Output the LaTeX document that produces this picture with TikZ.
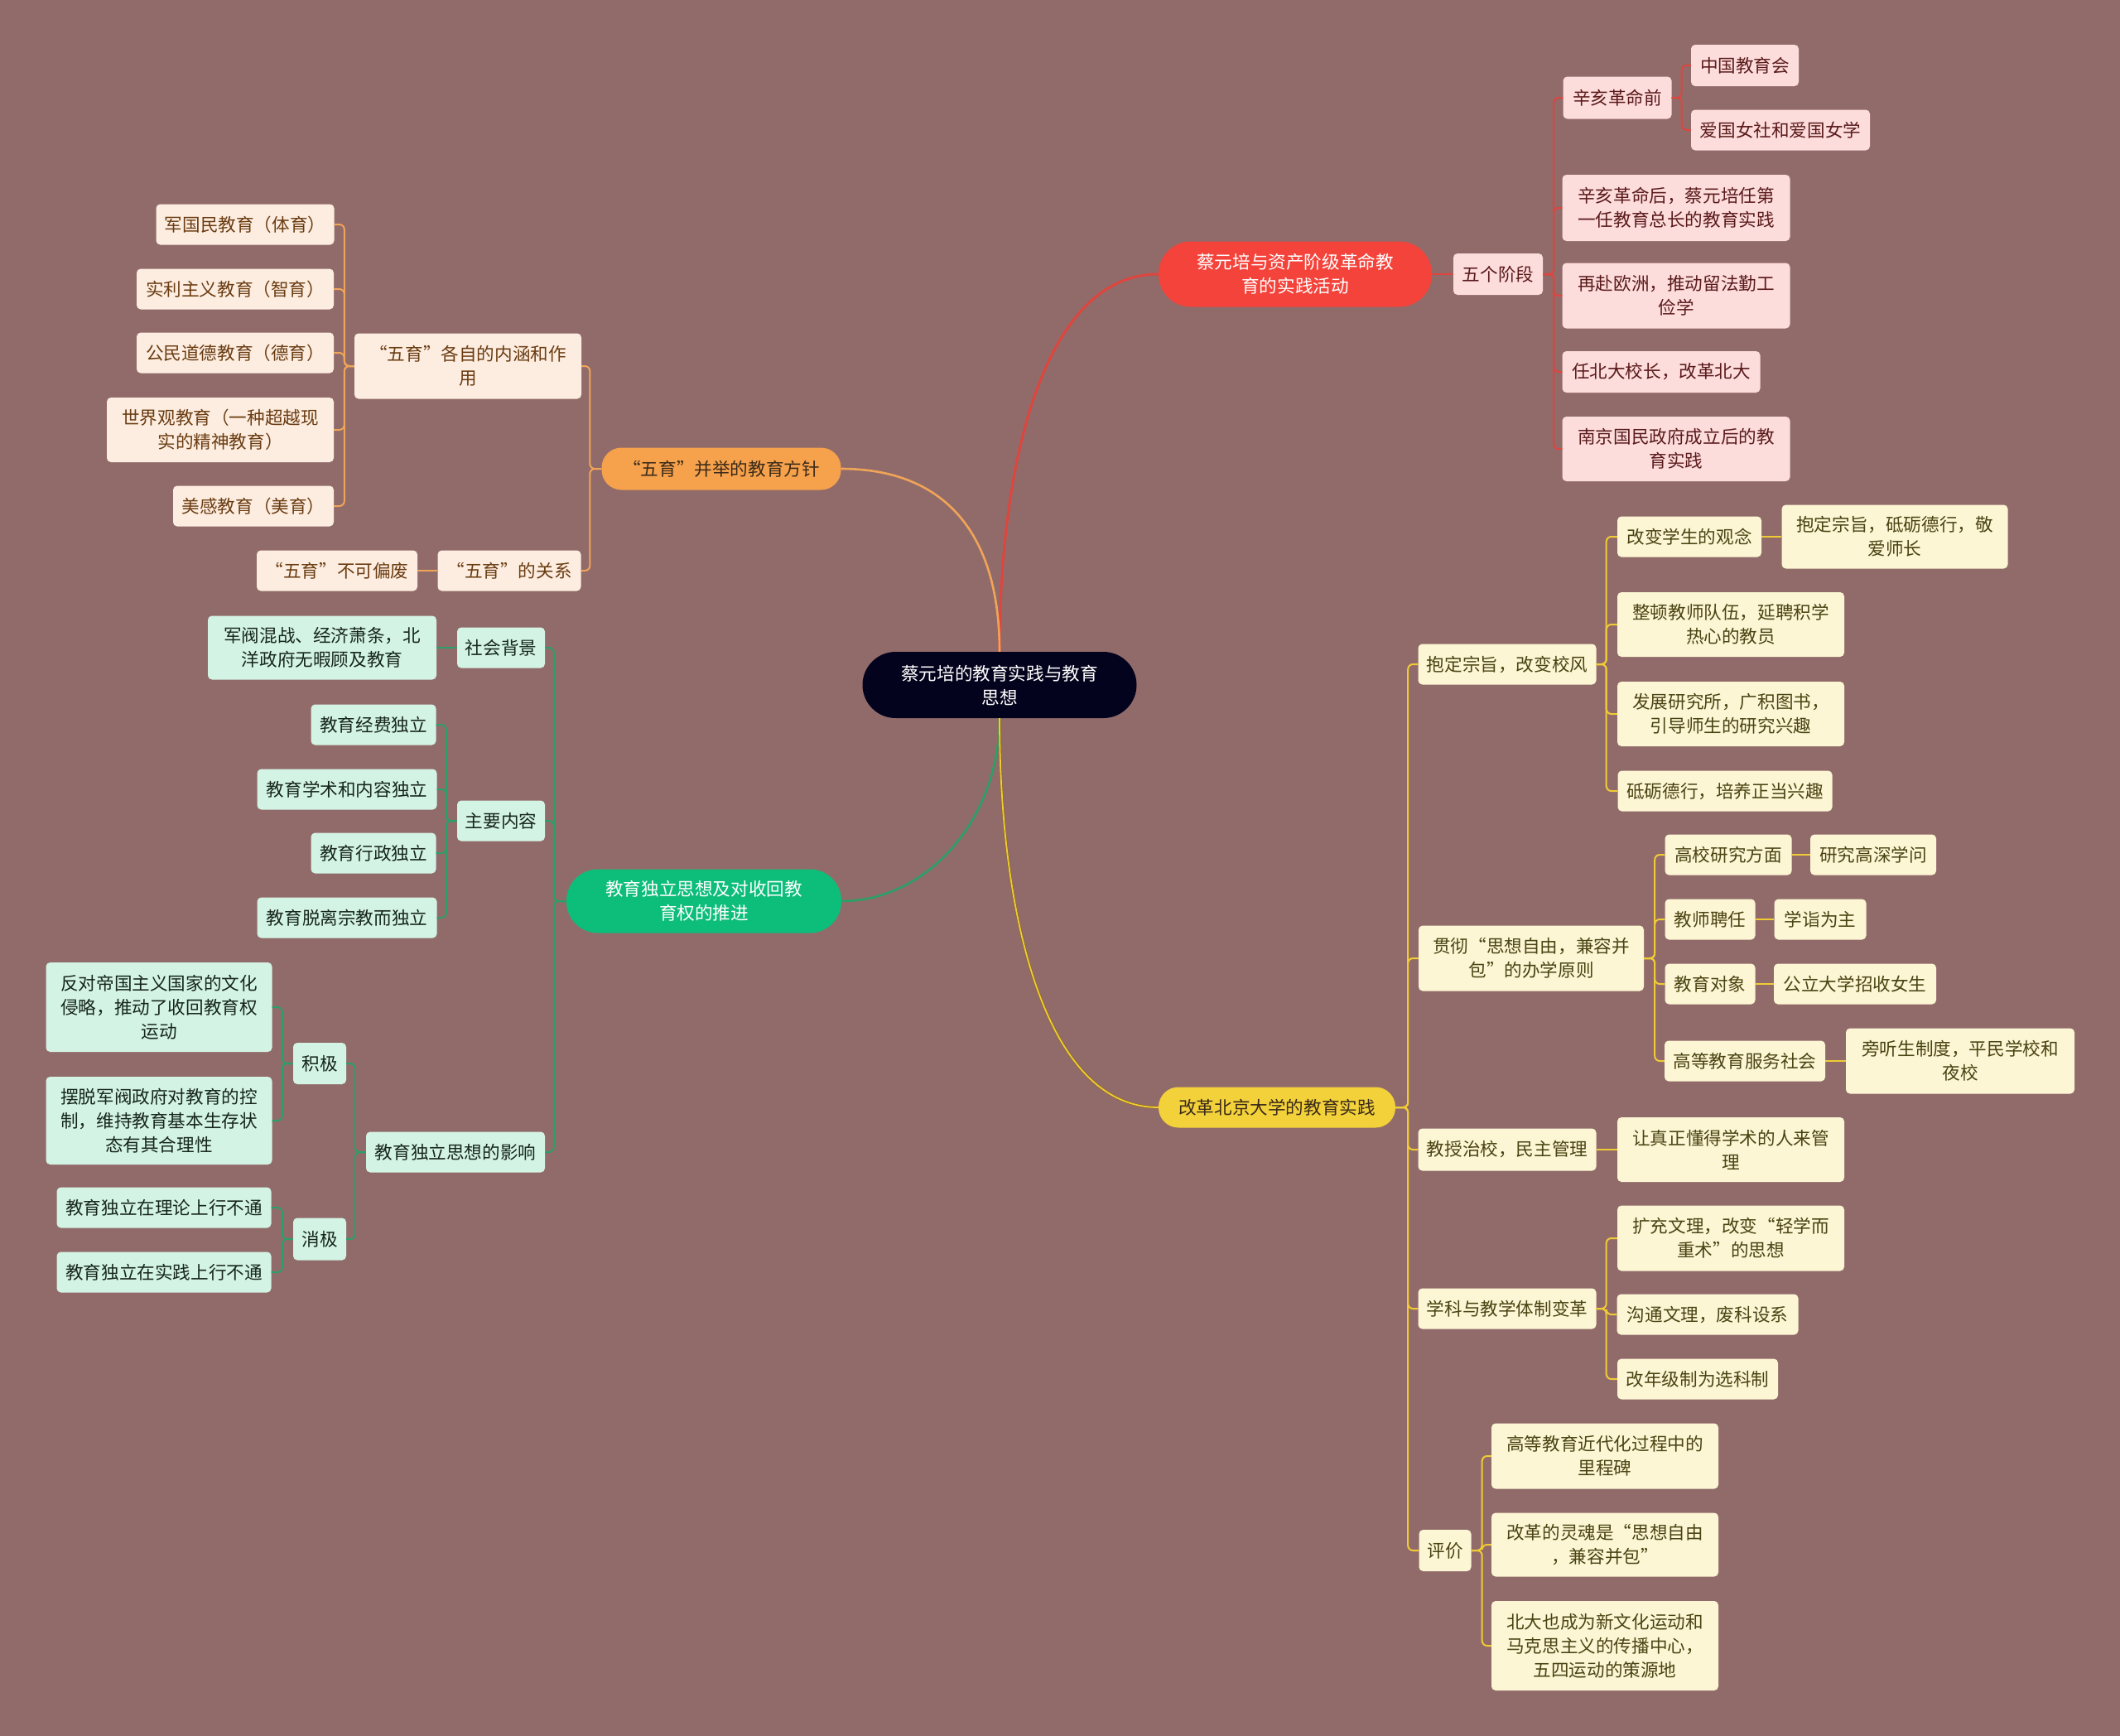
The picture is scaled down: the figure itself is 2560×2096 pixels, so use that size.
\documentclass[tikz,border=0pt]{standalone}
\usepackage{fontspec}
\setmainfont{Noto Sans CJK SC}
\definecolor{cbg}{HTML}{916B6A}
\definecolor{croot}{HTML}{04031E}
\definecolor{cred}{HTML}{F4433B}
\definecolor{corange}{HTML}{F6A14B}
\definecolor{cgreen}{HTML}{0DBD7A}
\definecolor{cyellow}{HTML}{F3D13A}
\definecolor{lred}{HTML}{DE453D}
\definecolor{lorange}{HTML}{F0A458}
\definecolor{lgreen}{HTML}{2C9F66}
\definecolor{lyellow}{HTML}{F0CB36}
\definecolor{lolive}{HTML}{8A6A1E}
\definecolor{cpink}{HTML}{FDDCDC}
\definecolor{cpeach}{HTML}{FDEDE0}
\definecolor{cmint}{HTML}{D3F3E4}
\definecolor{ccream}{HTML}{FDF6D4}
\definecolor{tred}{HTML}{5A1A1A}
\definecolor{torange}{HTML}{6A3C12}
\definecolor{tgreen}{HTML}{17261D}
\definecolor{tyellow}{HTML}{4A4313}
\definecolor{tdark}{HTML}{3A2A1A}
\tikzset{
  box/.style={align=center, inner sep=0pt, minimum height=49, font=\fontsize{21.6}{29}\selectfont},
  wd/.style={minimum width=#1},
  ht/.style={minimum height=#1},
  hub/.style={box, fill=#1, rounded corners=24pt},
  leafr/.style={box, fill=cpink, text=tred, rounded corners=5pt},
  leafo/.style={box, fill=cpeach, text=torange, rounded corners=5pt},
  leafg/.style={box, fill=cmint, text=tgreen, rounded corners=5pt},
  leafy/.style={box, fill=ccream, text=tyellow, rounded corners=5pt},
  trunk/.style={draw=#1, line width=2.6pt},
  conn/.style={draw=#1, line width=2pt, rounded corners=6pt},
}

\begin{document}
\begin{tikzpicture}[x=1pt, y=-1pt]
  \fill[cbg] (0,0) rectangle (2560,2096);
  % centre
  \node[hub=croot, text=white, rounded corners=40pt, wd=331, ht=80] (root) at (1207,827) {蔡元培的教育实践与教育\\思想};
  % red branch
  \node[hub=cred, text=white, rounded corners=39pt, wd=330, ht=79] (act) at (1564,331) {蔡元培与资产阶级革命教\\育的实践活动};
  \node[leafr, wd=108, ht=50] (five) at (1809,331) {五个阶段};
  \node[leafr, wd=131, ht=51] (pre) at (1953,118) {辛亥革命前};
  \node[leafr, wd=130, ht=50] (cea) at (2107,79) {中国教育会};
  \node[leafr, wd=216] (patr) at (2150,157) {爱国女社和爱国女学};
  \node[leafr, wd=275, ht=80] (post) at (2024,251) {辛亥革命后，蔡元培任第\\一任教育总长的教育实践};
  \node[leafr, wd=275, ht=79] (euro) at (2024,357) {再赴欧洲，推动留法勤工\\俭学};
  \node[leafr, wd=239, ht=50] (pku) at (2006,449) {任北大校长，改革北大};
  \node[leafr, wd=275, ht=78] (nanj) at (2024,542) {南京国民政府成立后的教\\育实践};
  % orange branch
  \node[hub=corange, text=tdark, wd=289, ht=51] (policy) at (871,566) {“五育”并举的教育方针};
  \node[leafo, wd=274, ht=79] (each) at (565,442) {“五育”各自的内涵和作\\用};
  \node[leafo, wd=215] (army) at (296,271) {军国民教育（体育）};
  \node[leafo, wd=238] (util) at (284,349) {实利主义教育（智育）};
  \node[leafo, wd=238] (civic) at (284,426) {公民道德教育（德育）};
  \node[leafo, wd=274, ht=78] (world) at (266,519) {世界观教育（一种超越现\\实的精神教育）};
  \node[leafo, wd=194] (aest) at (306,611) {美感教育（美育）};
  \node[leafo, wd=173] (rel) at (615,689) {“五育”的关系};
  \node[leafo, wd=194] (nobias) at (407,689) {“五育”不可偏废};
  % green branch
  \node[hub=cgreen, text=white, rounded corners=38pt, wd=332, ht=77] (indep) at (850,1088) {教育独立思想及对收回教\\育权的推进};
  \node[leafg, wd=106] (bg) at (605,782) {社会背景};
  \node[leafg, wd=276, ht=77] (bgtxt) at (389,782) {军阀混战、经济萧条，北\\洋政府无暇顾及教育};
  \node[leafg, wd=106] (cont) at (605,991) {主要内容};
  \node[leafg, wd=151] (fund) at (451,875) {教育经费独立};
  \node[leafg, wd=217] (acad) at (419,953) {教育学术和内容独立};
  \node[leafg, wd=151] (admin) at (451,1030) {教育行政独立};
  \node[leafg, wd=217] (relig) at (419,1108) {教育脱离宗教而独立};
  \node[leafg, wd=216] (infl) at (550,1391) {教育独立思想的影响};
  \node[leafg, wd=64, ht=50] (pos) at (386,1284) {积极};
  \node[leafg, wd=273, ht=108] (anti) at (192,1216) {反对帝国主义国家的文化\\侵略，推动了收回教育权\\运动};
  \node[leafg, wd=273, ht=106] (free) at (192,1353) {摆脱军阀政府对教育的控\\制，维持教育基本生存状\\态有其合理性};
  \node[leafg, wd=64, ht=51] (neg) at (386,1496) {消极};
  \node[leafg, wd=259] (theory) at (198,1458) {教育独立在理论上行不通};
  \node[leafg, wd=259] (practice) at (198,1536) {教育独立在实践上行不通};
  % yellow branch
  \node[hub=cyellow, text=tdark, wd=286] (reform) at (1542,1337) {改革北京大学的教育实践};
  \node[leafy, wd=215] (aim) at (1820,802) {抱定宗旨，改变校风};
  \node[leafy, wd=174] (view) at (2040,648) {改变学生的观念};
  \node[leafy, wd=273, ht=77] (viewtxt) at (2288,648) {抱定宗旨，砥砺德行，敬\\爱师长};
  \node[leafy, wd=274, ht=78] (staff) at (2090,754) {整顿教师队伍，延聘积学\\热心的教员};
  \node[leafy, wd=274, ht=78] (inst) at (2090,862) {发展研究所，广积图书，\\引导师生的研究兴趣};
  \node[leafy, wd=259] (moral) at (2083,955) {砥砺德行，培养正当兴趣};
  \node[leafy, wd=272, ht=79] (princ) at (1849,1157) {贯彻“思想自由，兼容并\\包”的办学原则};
  \node[leafy, wd=153] (res) at (2087,1032) {高校研究方面};
  \node[leafy, wd=152] (restxt) at (2262,1032) {研究高深学问};
  \node[leafy, wd=109] (hire) at (2065,1110) {教师聘任};
  \node[leafy, wd=111] (hiretxt) at (2198,1110) {学诣为主};
  \node[leafy, wd=109] (obj) at (2065,1188) {教育对象};
  \node[leafy, wd=196] (objtxt) at (2240,1188) {公立大学招收女生};
  \node[leafy, wd=194] (serv) at (2107,1281) {高等教育服务社会};
  \node[leafy, wd=276, ht=79] (servtxt) at (2367,1281) {旁听生制度，平民学校和\\夜校};
  \node[leafy, wd=215, ht=51] (prof) at (1820,1388) {教授治校，民主管理};
  \node[leafy, wd=274, ht=78] (proftxt) at (2090,1388) {让真正懂得学术的人来管\\理};
  \node[leafy, wd=215] (disc) at (1820,1580) {学科与教学体制变革};
  \node[leafy, wd=274, ht=79] (expand) at (2090,1495) {扩充文理，改变“轻学而\\重术”的思想};
  \node[leafy, wd=219] (merge) at (2062,1587) {沟通文理，废科设系};
  \node[leafy, wd=194] (elect) at (2050,1665) {改年级制为选科制};
  \node[leafy, wd=63, ht=50] (eval) at (1745,1872) {评价};
  \node[leafy, wd=274, ht=79] (mile) at (1938,1758) {高等教育近代化过程中的\\里程碑};
  \node[leafy, wd=274, ht=77] (soul) at (1938,1865) {改革的灵魂是“思想自由\\，兼容并包”};
  \node[leafy, wd=274, ht=108] (ctr) at (1938,1987) {北大也成为新文化运动和\\马克思主义的传播中心，\\五四运动的策源地};
  % trunks
  \draw[trunk=lred, line width=3pt] (root.north) .. controls +(0,-227) and +(-139,0) .. (act.west);
  \draw[trunk=lorange] (root.north) .. controls +(0,-144) and +(124,0) .. (policy.east);
  \draw[trunk=lgreen] (root.south) .. controls +(0,121) and +(104,0) .. (indep.east);
  \draw[draw=lolive, line width=0.6pt, double=lyellow, double distance=1.8pt] (root.south) .. controls +(0,235) and +(-138,0) .. (reform.west);
  % red connectors
  \draw[conn=lred] (act.east) -- (five.west);
  \draw[conn=lred] (five.east) -- ++(13,0) |- (pre.west); \draw[conn=lred] (five.east) -- ++(13,0) |- (post.west);
  \draw[conn=lred] (five.east) -- ++(13,0) |- (euro.west); \draw[conn=lred] (five.east) -- ++(13,0) |- (pku.west);
  \draw[conn=lred] (five.east) -- ++(13,0) |- (nanj.west);
  \draw[conn=lred] (pre.east) -- ++(12,0) |- (cea.west); \draw[conn=lred] (pre.east) -- ++(12,0) |- (patr.west);
  % orange connectors
  \draw[conn=lorange] (policy.west) -- ++(-14,0) |- (each.east); \draw[conn=lorange] (policy.west) -- ++(-14,0) |- (rel.east);
  \draw[conn=lorange] (each.west) -- ++(-12,0) |- (army.east); \draw[conn=lorange] (each.west) -- ++(-12,0) |- (util.east);
  \draw[conn=lorange] (each.west) -- ++(-12,0) |- (civic.east); \draw[conn=lorange] (each.west) -- ++(-12,0) |- (world.east);
  \draw[conn=lorange] (each.west) -- ++(-12,0) |- (aest.east);
  \draw[conn=lorange] (rel.west) -- (nobias.east);
  % green connectors
  \draw[conn=lgreen] (indep.west) -- ++(-15,0) |- (bg.east); \draw[conn=lgreen] (indep.west) -- ++(-15,0) |- (cont.east);
  \draw[conn=lgreen] (indep.west) -- ++(-15,0) |- (infl.east);
  \draw[conn=lgreen] (bg.west) -- (bgtxt.east);
  \draw[conn=lgreen] (cont.west) -- ++(-13,0) |- (fund.east); \draw[conn=lgreen] (cont.west) -- ++(-13,0) |- (acad.east);
  \draw[conn=lgreen] (cont.west) -- ++(-13,0) |- (admin.east); \draw[conn=lgreen] (cont.west) -- ++(-13,0) |- (relig.east);
  \draw[conn=lgreen] (infl.west) -- ++(-13,0) |- (pos.east); \draw[conn=lgreen] (infl.west) -- ++(-13,0) |- (neg.east);
  \draw[conn=lgreen] (pos.west) -- ++(-13,0) |- (anti.east); \draw[conn=lgreen] (pos.west) -- ++(-13,0) |- (free.east);
  \draw[conn=lgreen] (neg.west) -- ++(-13,0) |- (theory.east); \draw[conn=lgreen] (neg.west) -- ++(-13,0) |- (practice.east);
  % yellow connectors
  \draw[conn=lyellow] (reform.east) -- ++(15,0) |- (aim.west); \draw[conn=lyellow] (reform.east) -- ++(15,0) |- (princ.west);
  \draw[conn=lyellow] (reform.east) -- ++(15,0) |- (prof.west); \draw[conn=lyellow] (reform.east) -- ++(15,0) |- (disc.west);
  \draw[conn=lyellow] (reform.east) -- ++(15,0) |- (eval.west);
  \draw[conn=lyellow] (aim.east) -- ++(12,0) |- (view.west); \draw[conn=lyellow] (aim.east) -- ++(12,0) |- (staff.west);
  \draw[conn=lyellow] (aim.east) -- ++(12,0) |- (inst.west); \draw[conn=lyellow] (aim.east) -- ++(12,0) |- (moral.west);
  \draw[conn=lyellow] (view.east) -- (viewtxt.west);
  \draw[conn=lyellow] (princ.east) -- ++(13,0) |- (res.west); \draw[conn=lyellow] (princ.east) -- ++(13,0) |- (hire.west);
  \draw[conn=lyellow] (princ.east) -- ++(13,0) |- (obj.west); \draw[conn=lyellow] (princ.east) -- ++(13,0) |- (serv.west);
  \draw[conn=lyellow] (res.east) -- (restxt.west); \draw[conn=lyellow] (hire.east) -- (hiretxt.west);
  \draw[conn=lyellow] (obj.east) -- (objtxt.west); \draw[conn=lyellow] (serv.east) -- (servtxt.west);
  \draw[conn=lyellow] (prof.east) -- (proftxt.west);
  \draw[conn=lyellow] (disc.east) -- ++(12,0) |- (expand.west); \draw[conn=lyellow] (disc.east) -- ++(12,0) |- (merge.west);
  \draw[conn=lyellow] (disc.east) -- ++(12,0) |- (elect.west);
  \draw[conn=lyellow] (eval.east) -- ++(13,0) |- (mile.west); \draw[conn=lyellow] (eval.east) -- ++(13,0) |- (soul.west);
  \draw[conn=lyellow] (eval.east) -- ++(13,0) |- (ctr.west);
\end{tikzpicture}
\end{document}
